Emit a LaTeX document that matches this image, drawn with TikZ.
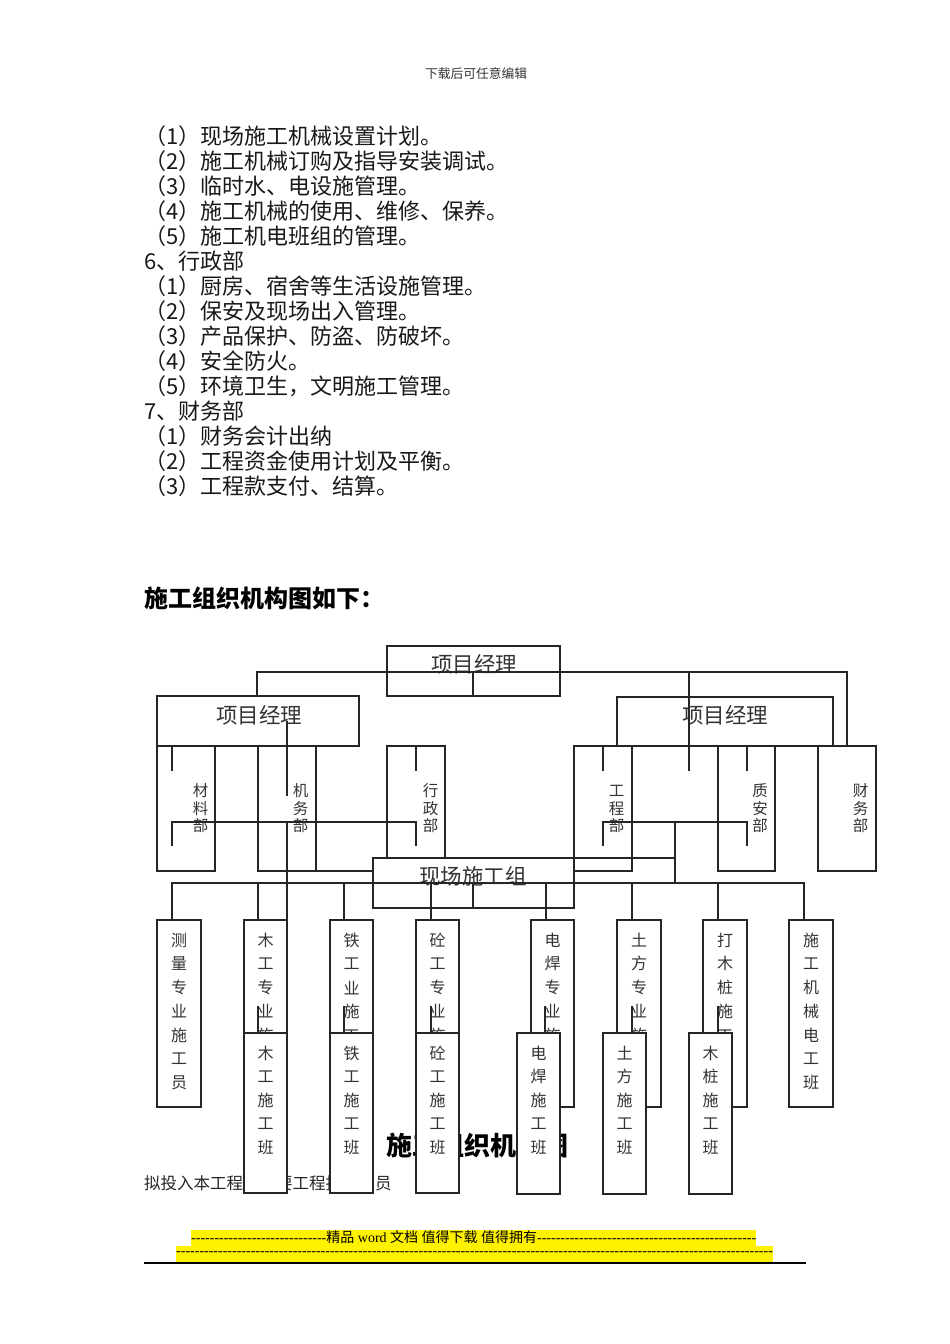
\documentclass[tikz,border=0pt]{standalone}
\usepackage{fontspec}
\setmainfont{Noto Sans CJK SC}
\newfontfamily\cjkf{Noto Sans CJK SC}
\newfontfamily\serifft[Ligatures=TeXOff]{Liberation Serif}
\newcommand\fsz[1]{\fontsize{#1pt}{#1pt}\selectfont}
\newcommand\dashes[1]{\ifnum#1>0 -\expandafter\dashes\expandafter{\the\numexpr#1-1\relax}\fi}
\newcommand\bx[5]{\draw[box] (#2,#3) rectangle (#4,#5); \coordinate (#1) at ({(#2+#4)/2},{(#3+#5)/2});}
\newcommand\vtxt[6][vt]{\foreach \c [count=\k from 0] in {#6} {\node[#1] (#2\k) at (#3,{#4+\k*#5}) {\c};}}
\tikzset{
  ln/.style={line width=1.1pt, draw=black!85, line cap=rect},
  box/.style={line width=1.1pt, draw=black!85, fill=white},
  lab/.style={inner sep=0, text=black!80},
  vt/.style={inner sep=0, text=black!80, font=\fsz{16}},
  vd/.style={inner sep=0, text=black!80, font=\fsz{15.5}},
  body/.style={inner sep=0, anchor=base west, font=\fsz{22}, text=black!90},
}
\begin{document}
\begin{tikzpicture}[x=1pt,y=-1pt]
\useasboundingbox[fill=white] (0,0) rectangle (950,1344);
% header
\node[lab, font=\fsz{12.75}] (hdr) at (476,74) {下载后可任意编辑};
% body text
\foreach \t [count=\i from 0] in {{（1）现场施工机械设置计划。},{（2）施工机械订购及指导安装调试。},{（3）临时水、电设施管理。},{（4）施工机械的使用、维修、保养。},{（5）施工机电班组的管理。},{6、行政部},{（1）厨房、宿舍等生活设施管理。},{（2）保安及现场出入管理。},{（3）产品保护、防盗、防破坏。},{（4）安全防火。},{（5）环境卫生，文明施工管理。},{7、财务部},{（1）财务会计出纳},{（2）工程资金使用计划及平衡。},{（3）工程款支付、结算。}}
  {\node[body] (line\i) at (144,{144.4+\i*25}) {\t};}
\node[inner sep=0, anchor=base west, font=\fsz{24}\bfseries] (ttl) at (144,607) {施工组织机构图如下：};
% management boxes
\bx{pm0}{387}{646}{560}{696}
\bx{pmL}{157}{696}{359}{746}
\bx{pmR}{617}{697}{833}{746}
\bx{d1}{157}{746}{215}{871}
\bx{d2}{258}{746}{316}{871}
\bx{d3}{387}{746}{445}{871}
\bx{d4}{574}{746}{632}{871}
\bx{d5}{718}{746}{775}{871}
\bx{d6}{818}{746}{876}{871}
\node[lab,font=\fsz{21.5}] (pm0t) at (474,664) {项目经理};
\node[lab,font=\fsz{21.5}] (pmLt) at (259,715) {项目经理};
\node[lab,font=\fsz{21.5}] (pmRt) at (725,715) {项目经理};
\vtxt[vd]{d1t}{200.5}{791}{17.5}{材,料,部}
\vtxt[vd]{d2t}{300.5}{791}{17.5}{机,务,部}
\vtxt[vd]{d3t}{430.5}{791}{17.5}{行,政,部}
\vtxt[vd]{d4t}{616.5}{791}{17.5}{工,程,部}
\vtxt[vd]{d5t}{760}{791}{17.5}{质,安,部}
\vtxt[vd]{d6t}{860.5}{791}{17.5}{财,务,部}
% site group
\bx{site}{373}{858}{574}{908}
\node[lab,font=\fsz{21.5}] (sitet) at (473,876) {现场施工组};
% connectors
\draw[ln] (257,696) -- (257,672) -- (847,672) -- (847,746);
\draw[ln] (689,672) -- (689,770);
\draw[ln] (473,672) -- (473,696);
\draw[ln] (287,722) -- (287,795);
\draw[ln] (287,822) -- (287,920);
\draw[ln] (172,746) -- (172,770);
\draw[ln] (172,845) -- (172,822) -- (416,822) -- (416,845);
\draw[ln] (416,746) -- (416,770);
\draw[ln] (603,746) -- (603,770);
\draw[ln] (603,845) -- (603,822) -- (747,822) -- (747,845);
\draw[ln] (747,746) -- (747,770);
\draw[ln] (675,822) -- (675,883);
\draw[ln] (574,858) -- (675,858);
\draw[ln] (316,871) -- (373,871);
\draw[ln] (172,920) -- (172,883) -- (804,883) -- (804,920);
\foreach \x in {258,344,431,546,632,718} {\draw[ln] (\x,883) -- (\x,920);}
\draw[ln] (473,883) -- (473,908);
% specialist boxes
\bx{u1}{157}{920}{201}{1107} \vtxt{u1t}{179}{940}{23.8}{测,量,专,业,施,工,员}
\bx{u2}{244}{920}{287}{1107} \vtxt{u2t}{265.5}{940}{23.8}{木,工,专,业,施}
\bx{u3}{330}{920}{373}{1107} \vtxt{u3t}{351.5}{940}{23.8}{铁,工,业,施,工}
\bx{u4}{416}{920}{459}{1107} \vtxt{u4t}{437.5}{940}{23.8}{砼,工,专,业,施}
\bx{u5}{531}{920}{574}{1107} \vtxt{u5t}{552.5}{940}{23.8}{电,焊,专,业,施}
\bx{u6}{617}{920}{661}{1107} \vtxt{u6t}{639}{940}{23.8}{土,方,专,业,施}
\bx{u7}{703}{920}{747}{1107} \vtxt{u7t}{725}{940}{23.8}{打,木,桩,施,工}
\bx{u8}{789}{920}{833}{1107} \vtxt{u8t}{811}{940}{23.8}{施,工,机,械,电,工,班}
\foreach \x in {258,344,431,545,632,718} {\draw[ln] (\x,1007) -- (\x,1033);}
% caption texts (partly hidden)
\node[inner sep=0, anchor=base west, font=\fsz{26}\bfseries] (cap) at (386,1155) {施工组织机构图};
\node[inner sep=0, anchor=base west, font=\fsz{16.5}, text=black!85] (sub) at (144,1189.3) {拟投入本工程的主要工程技术人员};
% team boxes
\bx{w1}{244}{1033}{287}{1193} \vtxt{w1t}{265.5}{1053}{23.6}{木,工,施,工,班}
\bx{w2}{330}{1033}{373}{1193} \vtxt{w2t}{351.5}{1053}{23.6}{铁,工,施,工,班}
\bx{w3}{416}{1033}{459}{1193} \vtxt{w3t}{437.5}{1053}{23.6}{砼,工,施,工,班}
\bx{w4}{517}{1033}{560}{1194} \vtxt{w4t}{538.5}{1053}{23.6}{电,焊,施,工,班}
\bx{w5}{603}{1033}{646}{1194} \vtxt{w5t}{624.5}{1053}{23.6}{土,方,施,工,班}
\bx{w6}{689}{1033}{732}{1194} \vtxt{w6t}{710.5}{1053}{23.6}{木,桩,施,工,班}
% footer
\node[inner sep=0, fill=yellow, anchor=west, minimum height=16, font=\fsz{14}\serifft] (foot1) at (191,1237.5) {\dashes{29}{\cjkf 精品} word {\cjkf 文档} {\cjkf 值得下载} {\cjkf 值得拥有}\dashes{47}};
\node[inner sep=0, fill=yellow, anchor=west, minimum height=16, font=\fsz{14}\serifft] (foot2) at (176,1253.5) {\dashes{128}};
\draw[line width=1.3pt] (144,1263) -- (806,1263);
\end{tikzpicture}
\end{document}
